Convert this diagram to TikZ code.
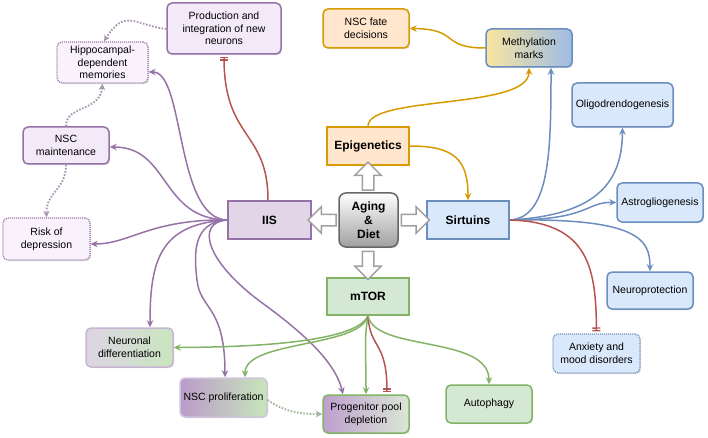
\documentclass[tikz,border=0pt]{standalone}
\usepackage{fontspec}
\setmainfont{Liberation Sans}
\usetikzlibrary{arrows.meta,shapes.arrows,shadows}

\definecolor{purpleline}{HTML}{9673A6}
\definecolor{purplefill}{HTML}{E1D5E7}
\definecolor{lightpurple}{HTML}{F3EAF9}
\definecolor{palepurple}{HTML}{F9F2FD}
\definecolor{orangeline}{HTML}{D79B00}
\definecolor{orangefill}{HTML}{FFE6CC}
\definecolor{blueline}{HTML}{6C8EBF}
\definecolor{bluefill}{HTML}{DAE8FC}
\definecolor{greenline}{HTML}{82B366}
\definecolor{greenfill}{HTML}{D5E8D4}
\definecolor{redline}{HTML}{B85450}
\definecolor{dotline}{HTML}{A896B3}
\definecolor{greendot}{HTML}{A3B59A}

\tikzset{
  box/.style={draw, line width=1.5pt, rounded corners=5pt, minimum width=86pt,
    minimum height=38pt, inner sep=1pt, align=center,
    font=\fontsize{10.5}{12.6}\selectfont,
    drop shadow={shadow xshift=1.2pt, shadow yshift=-1.2pt, opacity=0.25}},
  dotbox/.style={box, line width=1.3pt, dash pattern=on 1pt off 1pt},
  hub/.style={box, rounded corners=0pt, minimum width=82pt,
    font=\fontsize{12}{14}\selectfont\bfseries},
  link/.style={line width=1.5pt, -{Stealth[length=7pt,width=6.5pt]}},
  blocks/.style={line width=1.5pt, redline,
    -{Bar[width=8pt,line width=1.3pt,sep=1.3pt]Bar[width=8pt,line width=1.3pt,sep=2pt]}},
  faint/.style={line width=1.9pt, dash pattern=on 1.6pt off 1.6pt,
    -{Stealth[length=6.5pt,width=6.5pt]}},
  bigarrow/.style={single arrow, draw=gray!75, fill=white, line width=1.5pt,
    minimum height=28pt, inner sep=5pt, single arrow head extend=7.5pt}
}

\begin{document}
\begin{tikzpicture}[x=1pt, y=-1pt]
  \useasboundingbox (0,0) rectangle (708,438);

  \node (1) [box, rounded corners=7pt, draw=gray!80!black, top color=white,
    bottom color=gray!75, minimum width=59pt, minimum height=54pt,
    font=\fontsize{12}{14}\selectfont\bfseries] at (368.5,220) {Aging\\\&\\Diet};
  \node (2) [hub, fill=orangefill, draw=orangeline] at (368,146) {Epigenetics};
  \node (3) [hub, fill=purplefill, draw=purpleline, minimum width=83pt] at (269.5,220) {IIS};
  \node (4) [hub, fill=bluefill, draw=blueline] at (468,220) {Sirtuins};
  \node (5) [hub, fill=greenfill, draw=greenline, minimum height=37pt] at (368,296.5) {mTOR};

  \node (6) [box, fill=lightpurple, draw=purpleline, minimum width=114pt, minimum height=51pt]
    at (224,28.5) {Production and\\integration of new\\neurons};
  \node (7) [dotbox, fill=palepurple, draw=purpleline, minimum width=91pt, minimum height=41pt]
    at (102.5,62.5) {Hippocampal-\\dependent\\memories};
  \node (8) [box, fill=lightpurple, draw=purpleline, minimum height=37pt]
    at (66,145.5) {NSC\\maintenance};
  \node (9) [dotbox, fill=palepurple, draw=purpleline, minimum width=87pt, minimum height=42pt]
    at (46.5,239) {Risk of\\depression};
  \node (10) [box, fill=orangefill, draw=orangeline, minimum height=39pt]
    at (366,28.5) {NSC fate\\decisions};
  \node (11) [box, draw=blueline, left color={rgb,255:red,250;green,229;blue,160},
    right color={rgb,255:red,158;green,188;blue,230}] at (529,48) {Methylation\\marks};
  \node (12) [box, fill=bluefill, draw=blueline, minimum width=101pt, minimum height=44pt]
    at (622.5,105) {Oligodrendogenesis};
  \node (13) [box, fill=bluefill, draw=blueline, minimum height=39pt]
    at (660,202.5) {Astrogliogenesis};
  \node (14) [box, fill=bluefill, draw=blueline, minimum height=37pt]
    at (650,290.5) {Neuroprotection};
  \node (15) [dotbox, fill=bluefill, draw=blueline, minimum width=87pt, minimum height=39pt]
    at (596.5,353.5) {Anxiety and\\mood disorders};
  \node (16) [box, fill=greenfill, draw=greenline] at (489,404) {Autophagy};
  \node (17) [box, draw=greenline, left color={rgb,255:red,190;green,160;blue,206},
    right color={rgb,255:red,218;green,230;blue,214}] at (366,414) {Progenitor pool\\depletion};
  \node (18) [box, draw={rgb,255:red,208;green,196;blue,220}, minimum width=87pt, minimum height=39pt,
    left color={rgb,255:red,186;green,156;blue,202},
    right color={rgb,255:red,200;green,230;blue,186}] at (223.5,397.5) {NSC proliferation};
  \node (19) [box, draw={rgb,255:red,200;green,182;blue,212}, minimum width=87pt, minimum height=39pt,
    left color={rgb,255:red,222;green,212;blue,228},
    right color={rgb,255:red,200;green,230;blue,190}] at (129.5,347.5) {Neuronal\\differentiation};

  % hollow arrows out of the centre
  \node (20) [bigarrow, shape border rotate=90] at (368,179) {};
  \node (21) [bigarrow, shape border rotate=180] at (325,220) {};
  \node (22) [bigarrow, shape border rotate=0] at (412.5,220) {};
  \node (23) [bigarrow, shape border rotate=270] at (368,262.5) {};

  % IIS
  \draw[link, purpleline] (3.west) .. controls (175,219) and (185,72) .. (7.east |- 0,72);
  \draw[link, purpleline] (3.west) .. controls (160,219) and (170,147) .. (8.east |- 0,147);
  \draw[link, purpleline] (3.west) .. controls (150,219) and (130,244) .. (9.east |- 0,244);
  \draw[link, purpleline] (3.west) .. controls (160,224) and (150,260) .. (19.north -| 150,0);
  \draw[link, purpleline] (3.west) .. controls (192,222) and (194,255) .. (197,280)
    .. controls (200,310) and (225,305) .. (18.north -| 225,0);
  \draw[link, purpleline] (3.west) .. controls (195,222) and (205,262) .. (265,305)
    .. controls (310,338) and (336,365) .. (17.north -| 343,0);
  \draw[blocks] (3.north -| 268,0) .. controls (268,130) and (224,140) .. (6.south);

  % dotted links
  \draw[faint, dotline] (6.west |- 0,29) .. controls (135,25) and (125,8) .. (7.north -| 104,0);
  \draw[faint, dotline] (8.north) .. controls (66,105) and (100,112) .. (7.south);
  \draw[faint, dotline] (8.south) .. controls (66,190) and (46,192) .. (9.north);
  \draw[faint, greendot] (18.east |- 0,400) .. controls (285,412) and (300,414) .. (17.west);

  % Epigenetics
  \draw[link, orangeline] (2.north) .. controls (368,95) and (529,110) .. (11.south);
  \draw[link, orangeline] (2.east) .. controls (455,146) and (468,160) .. (4.north);
  \draw[link, orangeline] (11.west) .. controls (440,48) and (460,29) .. (10.east);

  % Sirtuins
  \draw[link, blueline] (4.east) .. controls (550,218) and (551,150) .. (11.south -| 551,0);
  \draw[link, blueline] (4.east) .. controls (600,215) and (622,180) .. (12.south);
  \draw[link, blueline] (4.east) .. controls (590,220) and (585,202) .. (13.west);
  \draw[link, blueline] (4.east) .. controls (640,218) and (650,240) .. (14.north);
  \draw[blocks] (4.east) .. controls (590,222) and (596,270) .. (15.north);

  % mTOR
  \draw[link, greenline] (5.south) .. controls (360,335) and (300,347) .. (19.east);
  \draw[link, greenline] (5.south) .. controls (360,348) and (245,340) .. (18.north -| 245,0);
  \draw[link, greenline] (5.south) .. controls (364,340) and (366,350) .. (17.north);
  \draw[blocks] (5.south) .. controls (370,350) and (387,340) .. (17.north -| 387,0);
  \draw[link, greenline] (5.south) .. controls (375,352) and (489,335) .. (16.north);
\end{tikzpicture}
\end{document}
